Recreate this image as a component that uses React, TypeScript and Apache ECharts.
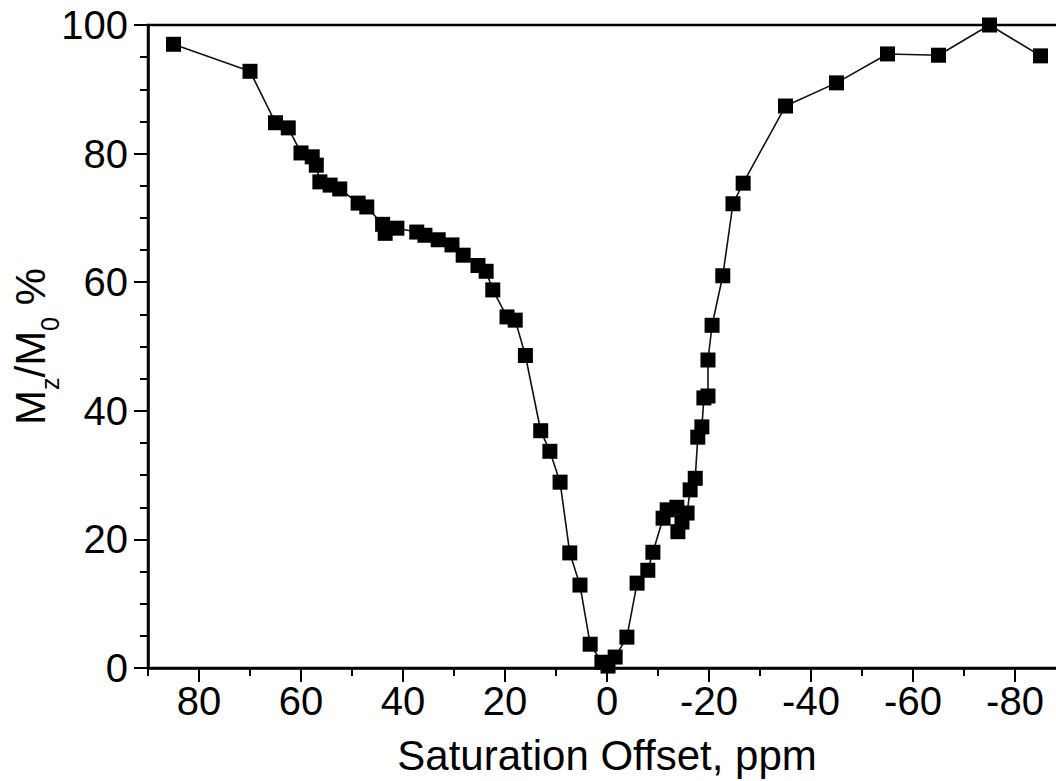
import React, { useEffect, useRef } from "react";
import * as echarts from "echarts";

const offsetPpm = [
  85, 70, 65, 62.5, 60, 57.8, 57, 56.3, 54.3, 52.4, 48.8, 47.1, 44, 43.5, 41.2,
  37.3, 35.7, 33.1, 30.4, 28.2, 25.3, 23.7, 22.4, 19.6, 18, 16, 13, 11.2, 9.2,
  7.3, 5.3, 3.3, 1, -0.2, -1.6, -3.9, -5.9, -8, -9, -11, -11.8, -13.7, -13.9,
  -14.7, -15.7, -16.3, -17.3, -17.8, -18.6, -19.0, -19.8, -19.8, -20.6, -22.7,
  -24.7, -26.7, -35, -45, -55, -65, -75, -85,
];
const mzPercent = [
  97.0, 92.8, 84.8, 84.0, 80.1, 79.5, 78.2, 75.6, 75.1, 74.5, 72.3, 71.7, 69.0,
  67.6, 68.4, 67.8, 67.3, 66.6, 65.8, 64.2, 62.6, 61.7, 58.8, 54.6, 54.1, 48.6,
  36.9, 33.7, 28.9, 17.9, 12.9, 3.7, 0.9, 0.3, 1.7, 4.8, 13.2, 15.2, 18.0, 23.3,
  24.6, 25.0, 21.2, 22.7, 24.1, 27.7, 29.5, 35.9, 37.5, 42.0, 42.3, 47.9, 53.3,
  61.0, 72.2, 75.4, 87.4, 91.0, 95.5, 95.3, 100, 95.2,
];
const xMajorTicks = [80, 60, 40, 20, 0, -20, -40, -60, -80];
const xMinorTicks = [90, 70, 50, 30, 10, -10, -30, -50, -70, -90];
const xAxisTitle = "Saturation Offset, ppm";

const FONT = "'Liberation Sans', Arial, Helvetica, sans-serif";

export default function App() {
  const ref = useRef<HTMLDivElement>(null);
  useEffect(() => {
    if (!ref.current) return;
    const chart = echarts.init(ref.current, null, { renderer: "svg" });
    const data = offsetPpm.map((x, i) => [x, mzPercent[i]]);
    chart.setOption({
      animation: false,
      backgroundColor: "#ffffff",
      grid: {
        left: 148,
        top: 25,
        width: 918,
        height: 643,
        containLabel: false,
        outerBoundsMode: "none",
        show: true,
        borderColor: "#000",
        borderWidth: 2.5,
        backgroundColor: "transparent",
      },
      xAxis: [
        {
          type: "value",
          min: -90,
          max: 90,
          inverse: true,
          position: "bottom",
          name: xAxisTitle,
          nameLocation: "middle",
          nameGap: 66,
          nameMoveOverlap: false,
          nameTextStyle: { fontSize: 42, color: "#000", fontFamily: FONT },
          axisLine: { show: true, onZero: false, lineStyle: { color: "#000", width: 2.5 } },
          axisTick: {
            show: true,
            customValues: xMajorTicks,
            length: 14,
            lineStyle: { color: "#000", width: 2 },
          },
          axisLabel: {
            customValues: xMajorTicks,
            fontSize: 40,
            color: "#000",
            fontFamily: FONT,
            margin: 13,
          },
          splitLine: { show: false },
        },
        {
          type: "value",
          min: -90,
          max: 90,
          inverse: true,
          position: "bottom",
          axisLine: { show: false, onZero: false },
          axisTick: {
            show: true,
            customValues: xMinorTicks,
            length: 8,
            lineStyle: { color: "#000", width: 2 },
          },
          axisLabel: { show: false },
          splitLine: { show: false },
        },
      ],
      yAxis: {
        type: "value",
        min: 0,
        max: 100,
        interval: 20,
        position: "left",
        name: "{m|M}{s|z}{m|/M}{s|0}{m| %}",
        nameLocation: "middle",
        nameRotate: 90,
        nameGap: 86,
        nameMoveOverlap: false,
        nameTextStyle: {
          fontFamily: FONT,
          color: "#000",
          rich: {
            m: {
              fontSize: 42,
              fontFamily: FONT,
              color: "#000",
              verticalAlign: "bottom",
              padding: [0, 0, 11, 0],
            },
            s: {
              fontSize: 25,
              fontFamily: FONT,
              color: "#000",
              verticalAlign: "bottom",
            },
          },
        },
        axisLine: { show: true, onZero: false, lineStyle: { color: "#000", width: 2.5 } },
        axisTick: { show: true, length: 14, lineStyle: { color: "#000", width: 2 } },
        minorTick: {
          show: true,
          splitNumber: 4,
          length: 8,
          lineStyle: { color: "#000", width: 2 },
        },
        axisLabel: { fontSize: 40, color: "#000", fontFamily: FONT, margin: 20 },
        splitLine: { show: false },
        minorSplitLine: { show: false },
      },
      series: [
        {
          type: "line",
          data,
          symbol: "rect",
          symbolSize: 15,
          showAllSymbol: true,
          itemStyle: { color: "#000" },
          lineStyle: { color: "#111", width: 1.6 },
          clip: false,
        },
      ],
    });
    return () => chart.dispose();
  }, []);
  return (
    <div
      ref={ref}
      style={{ position: "absolute", left: 0, top: 0, width: 1056, height: 781 }}
    />
  );
}
